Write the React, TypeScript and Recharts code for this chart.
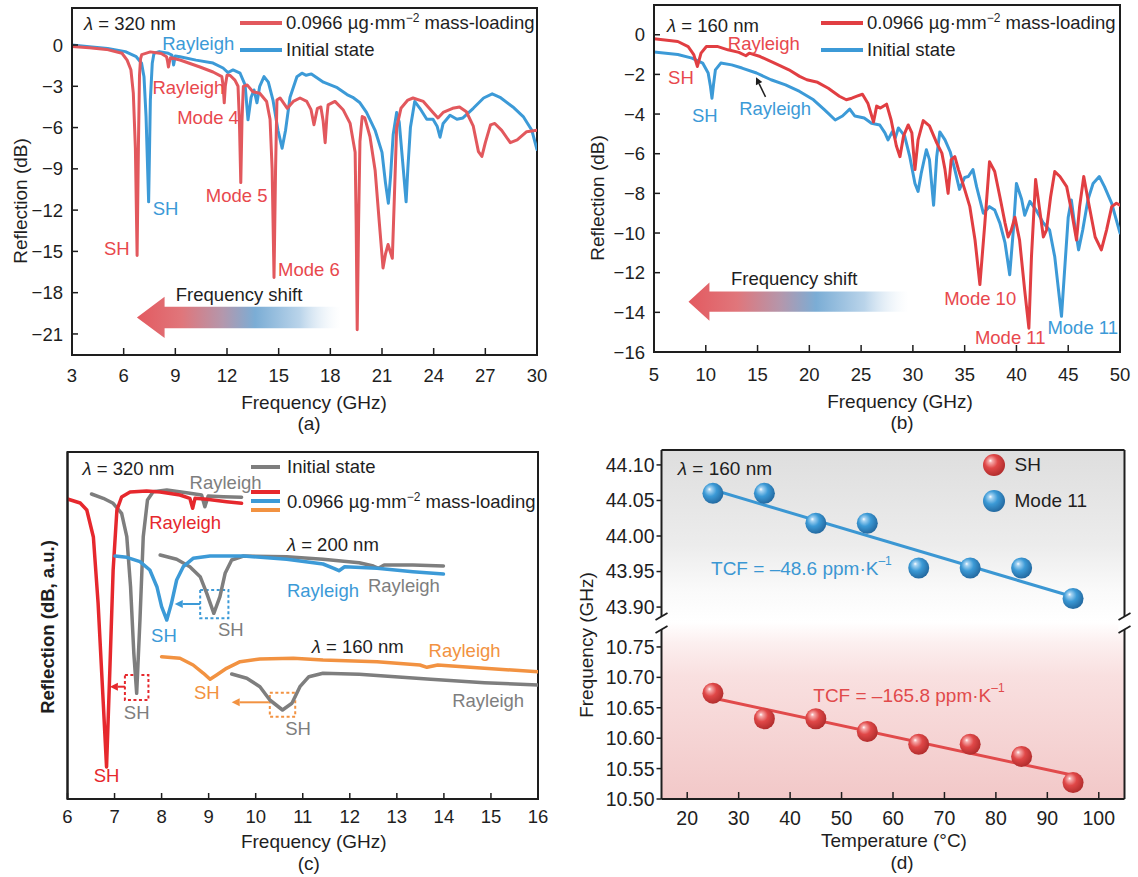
import React from 'react';
import {
  LineChart, Line, XAxis, YAxis, ReferenceDot, ReferenceArea, ReferenceLine,
  Legend, ComposedChart, Scatter,
} from 'recharts';

const FONT = '"Liberation Sans", Arial, Helvetica, sans-serif';
const INK = '#1e1e1e';
const A_RED = '#e2585d';
const B_RED = '#e13e42';
const BLUE = '#3c9ad7';
const RED_TXT = '#e8484d';
const C_RED = '#e6282d';
const GRAY = '#7e7e7e';
const ORANGE = '#f29241';
const D_BLUE = '#3b97d3';
const D_RED = '#e14a4b';

// ---------------- Panel (a): λ = 320 nm ----------------
const aXTicks = [3, 6, 9, 12, 15, 18, 21, 24, 27, 30];
const aYTicks = [0, -3, -6, -9, -12, -15, -18, -21];
const aLoaded = [
  [3.0, -0.1], [4.0, -0.2], [5.0, -0.32], [5.9, -0.6], [6.2, -1.1], [6.42, -1.8], [6.56, -3.5], [6.68, -7.5],
  [6.78, -15.3], [6.86, -7], [6.92, -2.2], [6.98, -1.0], [7.05, -0.7], [7.55, -0.5], [8.18, -0.62], [8.49, -0.85],
  [8.55, -1.2], [8.6, -1.6], [8.66, -1.2], [8.72, -0.92], [9.27, -1.09], [10.43, -1.6], [11.19, -1.96], [11.7, -2.3],
  [11.78, -3.0], [11.84, -4.2], [11.9, -3.0], [12.0, -2.2], [12.17, -2.2], [12.46, -2.55], [12.64, -3.0], [12.72, -5.5],
  [12.8, -10.0], [12.87, -5.5], [12.95, -3.0], [13.17, -2.9], [13.5, -3.4], [13.9, -3.5], [14.3, -4.1], [14.5, -5.4],
  [14.62, -9], [14.73, -16.9], [14.82, -9], [14.9, -4.0], [15.08, -3.85], [15.5, -4.6], [15.85, -4.1], [16.24, -3.85],
  [16.63, -4.1], [16.88, -4.7], [17.05, -5.8], [17.25, -4.6], [17.45, -4.5], [17.58, -5.5], [17.7, -7.1], [17.8, -5.2],
  [17.87, -4.35], [18.27, -4.1], [18.74, -4.7], [19.15, -5.7], [19.44, -7.8], [19.5, -13], [19.56, -20.7], [19.64, -13],
  [19.72, -7], [19.85, -5.2], [20.0, -5.3], [20.3, -6.65], [20.6, -9.1], [20.85, -13], [21.06, -16.2], [21.2, -15.2],
  [21.35, -14.5], [21.45, -14.9], [21.6, -15.5], [21.72, -11], [21.85, -6.0], [22.1, -4.6], [22.5, -4.0], [22.8, -3.85],
  [23.4, -4.1], [23.96, -4.9], [24.25, -5.3], [24.55, -4.9], [25.1, -4.6], [25.5, -4.5], [25.9, -4.85], [26.3, -5.9],
  [26.6, -7.75], [26.8, -8.1], [27.0, -7.1], [27.3, -5.8], [27.55, -5.7], [27.95, -6.2], [28.45, -7.1], [28.85, -6.9],
  [29.4, -6.3], [30.0, -6.2],
];
const aInitial = [
  [3.0, 0], [4.0, -0.12], [5.07, -0.25], [6.1, -0.48], [6.73, -0.85], [7.04, -1.33], [7.18, -2.3], [7.3, -5.2],
  [7.45, -11.4], [7.55, -4.0], [7.66, -1.33], [7.76, -0.6], [8.07, -0.48], [8.59, -0.6], [8.8, -0.73], [8.86, -1.1],
  [8.9, -1.45], [8.95, -1.1], [9.0, -0.8], [9.27, -0.85], [10.2, -1.1], [11.19, -1.31], [11.77, -1.67], [12.06, -2.0],
  [12.35, -1.81], [12.76, -2.05], [13.05, -2.9], [13.22, -5.44], [13.4, -3.8], [13.57, -3.27], [13.74, -4.2], [13.9, -3.0],
  [14.15, -2.3], [14.4, -2.7], [14.67, -4.0], [14.96, -6.2], [15.2, -7.5], [15.4, -6.2], [15.66, -3.8], [16.06, -2.3],
  [16.35, -2.05], [16.6, -2.2], [16.9, -2.1], [17.6, -2.7], [18.4, -3.1], [18.97, -3.6], [19.3, -3.8], [19.72, -4.2],
  [20.1, -4.9], [20.6, -6.2], [21.0, -7.8], [21.2, -10], [21.37, -11.5], [21.5, -9.5], [21.65, -6.5], [21.85, -4.9],
  [22.0, -5.6], [22.2, -8.5], [22.4, -11.4], [22.5, -9], [22.65, -6], [22.9, -4.1], [23.2, -4.6], [23.6, -5.4],
  [23.96, -5.4], [24.2, -5.9], [24.37, -6.7], [24.55, -5.7], [24.95, -5.1], [25.35, -5.4], [25.7, -5.3], [26.3, -4.6],
  [26.9, -3.85], [27.4, -3.55], [27.85, -3.8], [28.6, -4.5], [29.2, -5.2], [29.7, -6.2], [30.0, -7.6],
];
const aShift = { from: 6.77, to: 18.6, lo: -21.3, hi: -18.3 };

// ---------------- Panel (b): λ = 160 nm ----------------
const bXTicks = [5, 10, 15, 20, 25, 30, 35, 40, 45, 50];
const bYTicks = [0, -2, -4, -6, -8, -10, -12, -14, -16];
const bLoaded = [
  [5.0, -0.2], [7.3, -0.34], [8.3, -0.6], [8.84, -1.0], [9.19, -1.6], [9.54, -0.93], [10.06, -0.59], [11.1, -0.59],
  [12.14, -0.76], [13.2, -0.89], [13.87, -1.06], [14.2, -0.93], [15.25, -1.1], [16.64, -1.43], [18.03, -1.77],
  [19.06, -2.1], [19.76, -2.27], [20.8, -2.4], [21.83, -2.7], [22.9, -3.1], [23.57, -3.28], [24.1, -3.2], [24.6, -3.1],
  [25.13, -3.0], [25.65, -3.45], [26.2, -4.4], [26.5, -3.6], [26.86, -3.7], [27.46, -3.5], [27.9, -4.3], [28.4, -5.6],
  [28.75, -6.15], [29.1, -5.1], [29.55, -4.55], [29.9, -4.95], [30.2, -6.8], [30.5, -5.3], [31.0, -4.33], [31.6, -4.6],
  [32.3, -5.45], [32.8, -5.97], [33.1, -6.8], [33.4, -8.0], [33.7, -6.3], [34.05, -6.15], [34.4, -6.8], [35.0, -7.8],
  [35.5, -8.67], [36.0, -10.35], [36.47, -12.6], [36.95, -9.5], [37.4, -6.4], [37.9, -6.9], [38.4, -8.17], [38.9, -9.5],
  [39.2, -10.2], [39.5, -9.85], [39.85, -9.2], [40.3, -10.35], [40.8, -12.9], [41.2, -14.8], [41.45, -11.2],
  [41.85, -7.3], [42.2, -8.67], [42.6, -10.2], [42.9, -9.85], [43.3, -8.17], [43.7, -6.9], [44.2, -7.15], [44.85, -7.66],
  [45.3, -8.84], [45.8, -10.35], [46.1, -8.67], [46.5, -7.15], [46.9, -8.3], [47.6, -10.2], [48.2, -10.85],
  [48.7, -9.85], [49.2, -8.67], [49.65, -8.5], [50, -8.6],
];
const bInitial = [
  [5.0, -0.87], [7.3, -1.0], [8.67, -1.18], [9.7, -1.43], [10.23, -1.93], [10.45, -2.6], [10.6, -3.2], [10.75, -2.5],
  [10.93, -1.77], [11.45, -1.43], [12.5, -1.52], [13.5, -1.68], [14.9, -1.93], [16.3, -2.27], [17.7, -2.53],
  [19.06, -2.86], [20.4, -3.28], [21.5, -3.8], [22.5, -4.3], [23.2, -4.1], [23.9, -3.75], [24.4, -4.1], [25.3, -4.2],
  [26.0, -4.46], [26.8, -4.55], [27.3, -4.95], [27.6, -5.3], [28.0, -4.9], [28.3, -5.2], [28.6, -4.7], [29.2, -5.1],
  [29.7, -6.15], [30.2, -7.5], [30.5, -7.9], [30.8, -7.0], [31.3, -5.8], [31.6, -6.3], [32.0, -8.6], [32.3, -6.15],
  [32.6, -4.9], [33.1, -5.3], [33.6, -5.9], [34.05, -6.8], [34.5, -7.8], [35.0, -7.2], [35.35, -7.15], [35.8, -6.8],
  [36.15, -7.66], [36.8, -9.0], [37.4, -8.67], [37.9, -8.84], [38.4, -9.5], [38.9, -10.5], [39.35, -12.1], [39.7, -9.85],
  [40.0, -7.5], [40.5, -8.3], [40.8, -9.1], [41.3, -8.4], [41.9, -8.84], [42.6, -9.5], [43.2, -9.85], [43.7, -11.2],
  [44.35, -14.2], [44.7, -11.5], [45.0, -9.2], [45.3, -8.33], [45.6, -9.5], [46.0, -10.85], [46.4, -9.85], [46.9, -8.33],
  [47.4, -7.5], [48.0, -7.15], [48.5, -7.66], [49.2, -8.5], [49.65, -9.35], [50, -10.0],
];
const bShift = { from: 8.33, to: 29.6, lo: -14.42, hi: -12.5 };
const bPointer = { from: [15.77, -3.13], to: [14.85, -2.15] };

// ---------------- Panel (c): SH shifts (a.u.) ----------------
const cXTicks = [6, 7, 8, 9, 10, 11, 12, 13, 14, 15, 16];
const cRed320 = [
  [6.0, 30.0], [6.27, 29.6], [6.41, 28.9], [6.55, 26.2], [6.65, 19.6], [6.76, 9.6], [6.83, 3.2], [6.9, 12.9],
  [6.97, 22.9], [7.05, 28.9], [7.15, 30.2], [7.33, 30.7], [7.68, 30.8], [7.97, 30.7], [8.39, 30.4], [8.6, 30.07],
  [8.66, 29.07], [8.71, 30.07], [8.96, 29.97], [9.38, 29.73], [9.7, 29.57],
];
const cGray320 = [
  [6.51, 30.5], [6.76, 30.07], [6.97, 29.57], [7.15, 28.57], [7.26, 26.23], [7.34, 21.23], [7.41, 14.57], [7.47, 10.57],
  [7.54, 17.9], [7.61, 26.23], [7.7, 29.9], [7.82, 30.73], [8.11, 30.9], [8.53, 30.63], [8.85, 30.4], [8.92, 29.23],
  [8.99, 30.3], [9.31, 30.23], [9.7, 30.17],
];
const cBlue200 = [
  [7.01, 24.3], [7.26, 24.17], [7.54, 23.73], [7.75, 22.9], [7.9, 21.23], [8.0, 19.23], [8.11, 17.9], [8.21, 19.57],
  [8.32, 21.9], [8.46, 23.23], [8.67, 24.07], [9.03, 24.3], [9.74, 24.3], [10.66, 23.97], [11.43, 23.5], [11.66, 23.07],
  [11.77, 22.83], [11.89, 23.23], [12.58, 23.07], [13.34, 22.73], [13.99, 22.5],
];
const cGray200 = [
  [7.97, 24.4], [8.32, 23.97], [8.6, 23.23], [8.82, 22.23], [8.96, 20.57], [9.11, 18.57], [9.24, 20.23], [9.35, 22.57],
  [9.49, 23.9], [9.74, 24.3], [10.66, 24.23], [11.43, 23.97], [12.2, 23.63], [12.5, 23.3], [12.61, 23.07], [12.73, 23.4],
  [13.34, 23.4], [13.99, 23.3],
];
const cOrange160 = [
  [8.0, 14.23], [8.39, 14.07], [8.67, 13.4], [8.89, 12.57], [9.03, 11.97], [9.17, 12.4], [9.38, 13.07], [9.67, 13.73],
  [10.09, 14.0], [10.8, 14.07], [11.43, 13.9], [12.58, 13.73], [13.49, 13.4], [13.64, 13.17], [13.87, 13.4],
  [14.86, 13.07], [16.0, 12.73],
];
const cGray160 = [
  [9.49, 12.5], [9.81, 12.07], [10.09, 11.23], [10.3, 9.9], [10.57, 8.9], [10.77, 9.57], [10.94, 11.23], [11.13, 12.23],
  [11.43, 12.57], [12.2, 12.47], [12.96, 12.23], [13.72, 11.97], [14.86, 11.63], [16.0, 11.4],
];
const cBoxes = [
  { x1: 8.82, x2: 9.42, y1: 18.07, y2: 20.9, c: BLUE },
  { x1: 10.3, x2: 10.84, y1: 8.23, y2: 10.63, c: ORANGE },
  { x1: 7.22, x2: 7.72, y1: 9.9, y2: 12.4, c: C_RED },
];
const cArrows = [
  { from: [8.82, 19.5], to: [8.28, 19.5], c: BLUE },
  { from: [10.28, 9.67], to: [9.49, 9.67], c: ORANGE },
  { from: [7.22, 11.23], to: [6.9, 11.23], c: C_RED },
];

// ---------------- Panel (d): temperature ----------------
const dTemps = [25, 35, 45, 55, 65, 75, 85, 95];
const dMode11 = [44.06, 44.06, 44.018, 44.018, 43.955, 43.955, 43.955, 43.912];
const dSH = [10.674, 10.632, 10.632, 10.611, 10.59, 10.59, 10.57, 10.527];
const dFitT = [25, 95];
const dMode11Fit = [44.065, 43.9145];
const dSHFit = [10.666, 10.539];
const dXTicks = [20, 30, 40, 50, 60, 70, 80, 90, 100];
const dTopTicks = [43.9, 43.95, 44.0, 44.05, 44.1];
const dBotTicks = [10.5, 10.55, 10.6, 10.65, 10.7, 10.75];

// ---------------- annotation texts ----------------
type Note = { x: number; y: number; t: string; c: string; a?: 'start' | 'middle' | 'end'; s?: number };
const aNotes: Note[] = [
  { x: 3.7, y: 1.6, t: 'λ = 320 nm', c: INK, a: 'start' },
  { x: 10.33, y: 0.15, t: 'Rayleigh', c: BLUE },
  { x: 9.76, y: -3.07, t: 'Rayleigh', c: RED_TXT },
  { x: 10.9, y: -5.2, t: 'Mode 4', c: RED_TXT },
  { x: 8.43, y: -11.85, t: 'SH', c: BLUE },
  { x: 12.56, y: -10.9, t: 'Mode 5', c: RED_TXT },
  { x: 5.6, y: -14.77, t: 'SH', c: RED_TXT },
  { x: 16.76, y: -16.3, t: 'Mode 6', c: RED_TXT },
  { x: 12.7, y: -18.1, t: 'Frequency shift', c: INK },
];
const bNotes: Note[] = [
  { x: 6.25, y: 0.49, t: 'λ = 160 nm', c: INK, a: 'start' },
  { x: 15.6, y: -0.42, t: 'Rayleigh', c: RED_TXT },
  { x: 7.6, y: -2.13, t: 'SH', c: RED_TXT },
  { x: 9.9, y: -4.05, t: 'SH', c: BLUE },
  { x: 16.7, y: -3.7, t: 'Rayleigh', c: BLUE },
  { x: 36.5, y: -13.27, t: 'Mode 10', c: RED_TXT },
  { x: 39.4, y: -15.24, t: 'Mode 11', c: RED_TXT },
  { x: 46.4, y: -14.74, t: 'Mode 11', c: BLUE },
  { x: 18.54, y: -12.25, t: 'Frequency shift', c: INK },
];
const cNotes: Note[] = [
  { x: 6.32, y: 33.1, t: 'λ = 320 nm', c: INK, a: 'start' },
  { x: 9.36, y: 31.73, t: 'Rayleigh', c: GRAY },
  { x: 8.5, y: 27.73, t: 'Rayleigh', c: C_RED },
  { x: 11.64, y: 25.5, t: 'λ = 200 nm', c: INK },
  { x: 11.43, y: 20.9, t: 'Rayleigh', c: BLUE },
  { x: 13.15, y: 21.4, t: 'Rayleigh', c: GRAY },
  { x: 8.05, y: 16.4, t: 'SH', c: BLUE },
  { x: 9.47, y: 16.97, t: 'SH', c: GRAY },
  { x: 12.17, y: 15.3, t: 'λ = 160 nm', c: INK },
  { x: 14.44, y: 14.9, t: 'Rayleigh', c: ORANGE },
  { x: 8.96, y: 10.73, t: 'SH', c: ORANGE },
  { x: 10.9, y: 7.07, t: 'SH', c: GRAY },
  { x: 14.94, y: 9.9, t: 'Rayleigh', c: GRAY },
  { x: 7.47, y: 8.73, t: 'SH', c: GRAY },
  { x: 6.83, y: 2.4, t: 'SH', c: C_RED },
];
const dTopNotes: Note[] = [
  { x: 18.15, y: 44.096, t: 'λ = 160 nm', c: INK, a: 'start', s: 19 },
  { x: 42.2, y: 43.955, t: 'TCF = –48.6 ppm·K^–1', c: D_BLUE, s: 19 },
];
const dBotNotes: Note[] = [
  { x: 63.1, y: 10.671, t: 'TCF = –165.8 ppm·K^–1', c: D_RED, s: 19 },
];

// ---------------- helpers ----------------
const pts = (arr: number[][]) => arr.map(([f, v]) => ({ f, v }));
const minus = (v: number) => (v < 0 ? '\u2212' + Math.abs(v) : String(v));
const fix2 = (v: number) => v.toFixed(2);
const axisLine = { stroke: INK, strokeWidth: 2 };
const tickLine = { stroke: INK, strokeWidth: 1.5 };
const tick = (s: number) => ({ fontSize: s, fill: INK, fontFamily: FONT });

const rich = (t: string) => {
  const parts: React.ReactNode[] = [];
  let body = t;
  if (body.startsWith('λ')) {
    parts.push(<tspan key="l" fontStyle="italic">λ</tspan>);
    body = body.slice(1);
  }
  const [main, sup] = body.split('^');
  parts.push(<tspan key="m">{main}</tspan>);
  if (sup) parts.push(<tspan key="s" dy={-7} fontSize={12}>{sup}</tspan>);
  return parts;
};

const note = (n: Note, i: number) => (
  <ReferenceDot
    key={'n' + i}
    x={n.x}
    y={n.y}
    r={0}
    ifOverflow="visible"
    shape={(p: any) => (
      <text x={p.cx} y={p.cy} fill={n.c} fontSize={n.s ?? 18.5} fontFamily={FONT}
        textAnchor={n.a ?? 'middle'} dominantBaseline="central">{rich(n.t)}</text>
    )}
  />
);

const curve = (key: string, data: number[][], color: string, w = 3) => (
  <Line key={key} data={pts(data)} dataKey="v" type="linear" stroke={color} strokeWidth={w}
    dot={false} activeDot={false} isAnimationActive={false} strokeLinejoin="round" strokeLinecap="round" />
);

const xTitle = (title: string, tag: string, dxT: number, dxG: number, yT: number, yG: number, size = 19) =>
  (props: any) => {
    const vb = props.viewBox;
    const cx = vb.x + vb.width / 2;
    return (
      <g>
        <text x={cx + dxT} y={vb.y + yT} textAnchor="middle" dominantBaseline="central" fontSize={size} fontFamily={FONT} fill={INK}>{title}</text>
        <text x={cx + dxG} y={vb.y + yG} textAnchor="middle" dominantBaseline="central" fontSize={size} fontFamily={FONT} fill={INK}>{tag}</text>
      </g>
    );
  };

const yTitle = (title: string, dx: number, dy: number, size = 19, bold = false) => (props: any) => {
  const vb = props.viewBox;
  const cx = vb.x + dx;
  const cy = vb.y + vb.height / 2 + dy;
  return (
    <text x={cx} y={cy} transform={`rotate(-90 ${cx} ${cy})`} textAnchor="middle" dominantBaseline="central"
      fontSize={size} fontWeight={bold ? 700 : 400} fontFamily={FONT} fill={INK}>{title}</text>
  );
};

const shiftArrow = (gid: string, headRatio: number, bodyRatio: number) => (p: any) => {
  const { x, y, width: w, height: h } = p;
  const hw = h * headRatio;
  const bt = y + (h * (1 - bodyRatio)) / 2;
  const bb = y + (h * (1 + bodyRatio)) / 2;
  const poly = [[x, y + h / 2], [x + hw, y], [x + hw, bt], [x + w, bt], [x + w, bb], [x + hw, bb], [x + hw, y + h]];
  return <polygon points={poly.map((q) => q.join(',')).join(' ')} fill={`url(#${gid})`} />;
};

const arrowShape = (color: string, head = 8, width = 2) => (p: any) => {
  const { x1, y1, x2, y2 } = p;
  const ang = Math.atan2(y2 - y1, x2 - x1);
  const hx = x2 - head * Math.cos(ang);
  const hy = y2 - head * Math.sin(ang);
  const nx = -Math.sin(ang) * head * 0.5;
  const ny = Math.cos(ang) * head * 0.5;
  return (
    <g>
      <line x1={x1} y1={y1} x2={hx} y2={hy} stroke={color} strokeWidth={width} />
      <polygon points={`${x2},${y2} ${hx + nx},${hy + ny} ${hx - nx},${hy - ny}`} fill={color} />
    </g>
  );
};

const shiftGradient = (id: string) => (
  <linearGradient id={id} x1="0" y1="0" x2="1" y2="0">
    <stop offset="0" stopColor="#e35a60" />
    <stop offset="0.22" stopColor="#e0767b" />
    <stop offset="0.42" stopColor="#b497ac" />
    <stop offset="0.58" stopColor="#7badd5" />
    <stop offset="0.8" stopColor="#bad4ea" />
    <stop offset="1" stopColor="#ffffff" stopOpacity="0.3" />
  </linearGradient>
);

const sphereGrad = (id: string, light: string, base: string, dark: string) => (
  <radialGradient id={id} cx="42%" cy="40%" r="62%" fx="33%" fy="30%">
    <stop offset="0%" stopColor="#ffffff" />
    <stop offset="14%" stopColor={light} />
    <stop offset="48%" stopColor={base} />
    <stop offset="100%" stopColor={dark} />
  </radialGradient>
);

const LoadLabel = () => (
  <span>
    0.0966 µg·mm<span style={{ fontSize: 12, position: 'relative', top: -7 }}>−2</span> mass-loading
  </span>
);

const TwoLineLegend = ({ first, second }: { first: string; second: string }) => (
  <div style={{ fontFamily: FONT, fontSize: 18.5, color: INK, whiteSpace: 'nowrap' }}>
    {[{ c: first, l: <LoadLabel /> }, { c: second, l: <span>Initial state</span> }].map((it, i) => (
      <div key={i} style={{ display: 'flex', alignItems: 'center', height: 27 }}>
        <span style={{ width: 42, height: 4, background: it.c, marginRight: 4, display: 'inline-block' }} />
        {it.l}
      </div>
    ))}
  </div>
);

const CLegend = () => (
  <div style={{ position: 'relative', width: 300, height: 70, fontFamily: FONT, fontSize: 18.5, color: INK, whiteSpace: 'nowrap' }}>
    <span style={{ position: 'absolute', left: 0, top: 11, width: 29, height: 4, background: GRAY }} />
    <span style={{ position: 'absolute', left: 36, top: 0, lineHeight: '26px' }}>Initial state</span>
    <span style={{ position: 'absolute', left: 0, top: 35.7, width: 29, height: 4, background: C_RED }} />
    <span style={{ position: 'absolute', left: 0, top: 45, width: 29, height: 4, background: BLUE }} />
    <span style={{ position: 'absolute', left: 0, top: 54, width: 29, height: 4, background: ORANGE }} />
    <span style={{ position: 'absolute', left: 36, top: 34.7, lineHeight: '26px' }}><LoadLabel /></span>
  </div>
);

const DLegend = () => (
  <div style={{ position: 'relative', width: 150, height: 72, fontFamily: FONT, fontSize: 19, color: INK, whiteSpace: 'nowrap' }}>
    <svg width={26} height={72} style={{ position: 'absolute', left: 0, top: 0 }}>
      <defs>
        {sphereGrad('lgR', '#f6aaaa', '#e04848', '#b02c2c')}
        {sphereGrad('lgB', '#a5d3f2', '#3c9ad6', '#22679e')}
      </defs>
      <circle cx={12} cy={14} r={11} fill="url(#lgR)" />
      <circle cx={12} cy={50} r={11} fill="url(#lgB)" />
    </svg>
    <span style={{ position: 'absolute', left: 33, top: 1, lineHeight: '26px' }}>SH</span>
    <span style={{ position: 'absolute', left: 33, top: 37, lineHeight: '26px' }}>Mode 11</span>
  </div>
);

// ---------------- panels ----------------
function PanelA() {
  return (
    <LineChart width={560} height={440} margin={{ top: 8, right: 23, bottom: 30, left: 12 }}>
      <defs>{shiftGradient('shiftA')}</defs>
      <XAxis type="number" dataKey="f" domain={[3, 30]} ticks={aXTicks} allowDataOverflow height={55}
        tickSize={-7} tickMargin={21} axisLine={axisLine} tickLine={tickLine} tick={tick(18.5)}
        label={xTitle('Frequency (GHz)', '(a)', 9.5, 4.5, 47, 68)} />
      <YAxis type="number" domain={[-22.53, 2.69]} ticks={aYTicks} allowDataOverflow width={60}
        tickSize={-6} tickMargin={15} tickFormatter={minus} axisLine={axisLine} tickLine={tickLine} tick={tick(18.5)}
        label={yTitle('Reflection (dB)', 8, 19.5)} />
      <ReferenceArea x1={aShift.from} x2={aShift.to} y1={aShift.lo} y2={aShift.hi} ifOverflow="visible"
        shape={shiftArrow('shiftA', 0.67, 0.52)} />
      {curve('ai', aInitial, BLUE)}
      {curve('al', aLoaded, A_RED)}
      {aNotes.map(note)}
      <ReferenceArea x1={3} x2={30} y1={-22.53} y2={2.69} fill="none" fillOpacity={0} stroke={INK} strokeWidth={2} ifOverflow="visible" />
      <Legend layout="horizontal" verticalAlign="middle" align="center"
        wrapperStyle={{ left: 240, top: 9.2, width: 320, height: 54 }}
        content={() => <TwoLineLegend first={A_RED} second={BLUE} />} />
    </LineChart>
  );
}

function PanelB() {
  return (
    <LineChart width={568} height={440} margin={{ top: 5, right: 18, bottom: 33, left: 24 }}>
      <defs>{shiftGradient('shiftB')}</defs>
      <XAxis type="number" dataKey="f" domain={[5, 50]} ticks={bXTicks} allowDataOverflow height={55}
        tickSize={-7} tickMargin={23} axisLine={axisLine} tickLine={tickLine} tick={tick(18.5)}
        label={xTitle('Frequency (GHz)', '(b)', 13, 15, 49.3, 70)} />
      <YAxis type="number" domain={[-16, 1.5]} ticks={bYTicks} allowDataOverflow width={60}
        tickSize={-6} tickMargin={15} tickFormatter={minus} axisLine={axisLine} tickLine={tickLine} tick={tick(18.5)}
        label={yTitle('Reflection (dB)', 3, 19.5)} />
      <ReferenceArea x1={bShift.from} x2={bShift.to} y1={bShift.lo} y2={bShift.hi} ifOverflow="visible"
        shape={shiftArrow('shiftB', 0.55, 0.53)} />
      {curve('bi', bInitial, BLUE)}
      {curve('bl', bLoaded, B_RED)}
      <ReferenceLine segment={[{ x: bPointer.from[0], y: bPointer.from[1] }, { x: bPointer.to[0], y: bPointer.to[1] }]}
        ifOverflow="visible" shape={arrowShape(INK, 7, 1.5)} />
      {bNotes.map(note)}
      <ReferenceArea x1={5} x2={50} y1={-16} y2={1.5} fill="none" fillOpacity={0} stroke={INK} strokeWidth={2} ifOverflow="visible" />
      <Legend layout="horizontal" verticalAlign="middle" align="center"
        wrapperStyle={{ left: 251, top: 9.8, width: 320, height: 54 }}
        content={() => <TwoLineLegend first={B_RED} second={BLUE} />} />
    </LineChart>
  );
}

function PanelC() {
  return (
    <LineChart width={560} height={437} margin={{ top: 12, right: 22, bottom: 23, left: 7.5 }}>
      <XAxis type="number" dataKey="f" domain={[6, 16]} ticks={cXTicks} allowDataOverflow height={55}
        tickSize={-6} tickMargin={17} axisLine={axisLine} tickLine={tickLine} tick={tick(18.5)}
        label={xTitle('Frequency (GHz)', '(c)', 11, 6, 42, 64)} />
      <YAxis type="number" domain={[0, 34.7]} allowDataOverflow width={60} tick={false} tickLine={false}
        axisLine={axisLine} label={yTitle('Reflection (dB, a.u.)', 39.5, 1.5, 18.5, true)} />
      {curve('c1', cGray320, GRAY, 3.5)}
      {curve('c2', cRed320, C_RED, 3.5)}
      {curve('c3', cGray200, GRAY, 3.5)}
      {curve('c4', cBlue200, BLUE, 3.5)}
      {curve('c5', cOrange160, ORANGE, 3.5)}
      {curve('c6', cGray160, GRAY, 3.5)}
      {cBoxes.map((b, i) => (
        <ReferenceArea key={'b' + i} x1={b.x1} x2={b.x2} y1={b.y1} y2={b.y2} fill="none" fillOpacity={0}
          stroke={b.c} strokeWidth={2} strokeDasharray="3 2.5" ifOverflow="visible" />
      ))}
      {cArrows.map((a, i) => (
        <ReferenceLine key={'a' + i} segment={[{ x: a.from[0], y: a.from[1] }, { x: a.to[0], y: a.to[1] }]}
          ifOverflow="visible" shape={arrowShape(a.c, 8, 2)} />
      ))}
      {cNotes.map(note)}
      <ReferenceArea x1={6} x2={16} y1={0} y2={34.7} fill="none" fillOpacity={0} stroke={INK} strokeWidth={2} ifOverflow="visible" />
      <Legend layout="horizontal" verticalAlign="middle" align="center"
        wrapperStyle={{ left: 251, top: 14, width: 300, height: 70 }}
        content={() => <CLegend />} />
    </LineChart>
  );
}

const dPts = (vals: number[]) => dTemps.map((T, i) => ({ T, f: vals[i] }));
const dFit = (vals: number[]) => dFitT.map((T, i) => ({ T, f: vals[i] }));

function PanelDTop() {
  return (
    <ComposedChart width={568} height={182} margin={{ top: 10, right: 13.5, bottom: 0, left: 11.5 }}>
      <defs>
        <linearGradient id="bgTop" x1="0" y1="0" x2="0" y2="1">
          <stop offset="0" stopColor="#dedede" />
          <stop offset="0.55" stopColor="#ececec" />
          <stop offset="0.82" stopColor="#fafafa" />
          <stop offset="1" stopColor="#ffffff" />
        </linearGradient>
        {sphereGrad('sphB', '#a5d3f2', '#3c9ad6', '#22679e')}
      </defs>
      <XAxis type="number" dataKey="T" domain={[15, 105]} allowDataOverflow hide />
      <YAxis type="number" domain={[43.879, 44.121]} ticks={dTopTicks} allowDataOverflow width={80}
        tickSize={5} tickMargin={2} tickFormatter={fix2} axisLine={axisLine} tickLine={tickLine} tick={tick(19.5)} />
      <ReferenceArea x1={15} x2={105} y1={43.879} y2={44.121} fill="url(#bgTop)" fillOpacity={1} stroke="none" ifOverflow="visible" />
      <Line data={dFit(dMode11Fit)} dataKey="f" stroke={D_BLUE} strokeWidth={3} dot={false} activeDot={false} isAnimationActive={false} />
      <Scatter data={dPts(dMode11)} dataKey="f" isAnimationActive={false}
        shape={(p: any) => <circle cx={p.cx} cy={p.cy} r={10.5} fill="url(#sphB)" />} />
      {dTopNotes.map(note)}
      <ReferenceLine y={44.121} stroke={INK} strokeWidth={2} ifOverflow="visible" />
      <ReferenceLine x={105} stroke={INK} strokeWidth={2} ifOverflow="visible" />
      <Legend layout="horizontal" verticalAlign="middle" align="center"
        wrapperStyle={{ left: 411.5, top: 11, width: 150, height: 72 }}
        content={() => <DLegend />} />
    </ComposedChart>
  );
}

function PanelDBottom() {
  return (
    <ComposedChart width={568} height={437} margin={{ top: 182, right: 13.5, bottom: 28, left: 11.5 }}>
      <defs>
        <linearGradient id="bgBot" x1="0" y1="0" x2="0" y2="1">
          <stop offset="0" stopColor="#ffffff" />
          <stop offset="0.12" stopColor="#fcefef" />
          <stop offset="0.3" stopColor="#f9e0e0" />
          <stop offset="1" stopColor="#f2c8c8" />
        </linearGradient>
        {sphereGrad('sphR', '#f6aaaa', '#e04848', '#b02c2c')}
      </defs>
      <XAxis type="number" dataKey="T" domain={[15, 105]} ticks={dXTicks} allowDataOverflow height={50}
        tickSize={-7} tickMargin={19} axisLine={axisLine} tickLine={tickLine} tick={tick(19.5)}
        label={xTitle('Temperature (°C)', '(d)', 1, 9, 41, 63, 19)} />
      <YAxis type="number" domain={[10.5, 10.791]} ticks={dBotTicks} allowDataOverflow width={80}
        tickSize={5} tickMargin={2} tickFormatter={fix2} axisLine={axisLine} tickLine={tickLine} tick={tick(19.5)}
        label={yTitle('Frequency (GHz)', 4.5, -65.5, 19)} />
      <ReferenceArea x1={15} x2={105} y1={10.5} y2={10.791} fill="url(#bgBot)" fillOpacity={1} stroke="none" ifOverflow="visible" />
      <Line data={dFit(dSHFit)} dataKey="f" stroke={D_RED} strokeWidth={3} dot={false} activeDot={false} isAnimationActive={false} />
      <Scatter data={dPts(dSH)} dataKey="f" isAnimationActive={false}
        shape={(p: any) => <circle cx={p.cx} cy={p.cy} r={10.5} fill="url(#sphR)" />} />
      {dBotNotes.map(note)}
      <ReferenceLine x={105} stroke={INK} strokeWidth={2} ifOverflow="visible" />
    </ComposedChart>
  );
}

const BreakMarks = () => {
  const marks = [[661.5, 623], [1124.5, 623]];
  return (
    <svg width={1138} height={877} style={{ position: 'absolute', left: 0, top: 0, pointerEvents: 'none' }}>
      {marks.map(([cx, cy], i) => (
        <g key={i}>
          <polygon points={`${cx - 6},${cy - 3} ${cx + 6},${cy - 10} ${cx + 6},${cy + 3} ${cx - 6},${cy + 10}`} fill="#ffffff" />
          <line x1={cx - 6} y1={cy - 3} x2={cx + 6} y2={cy - 10} stroke={INK} strokeWidth={1.8} />
          <line x1={cx - 6} y1={cy + 10} x2={cx + 6} y2={cy + 3} stroke={INK} strokeWidth={1.8} />
        </g>
      ))}
    </svg>
  );
};

export default function App() {
  return (
    <div style={{ position: 'absolute', left: 0, top: 0, width: 1138, height: 877, background: '#ffffff', fontFamily: FONT, overflow: 'hidden' }}>
      <div style={{ position: 'absolute', left: 0, top: 0 }}><PanelA /></div>
      <div style={{ position: 'absolute', left: 570, top: 0 }}><PanelB /></div>
      <div style={{ position: 'absolute', left: 0, top: 440 }}><PanelC /></div>
      <div style={{ position: 'absolute', left: 570, top: 440 }}><PanelDBottom /></div>
      <div style={{ position: 'absolute', left: 570, top: 440 }}><PanelDTop /></div>
      <BreakMarks />
    </div>
  );
}
